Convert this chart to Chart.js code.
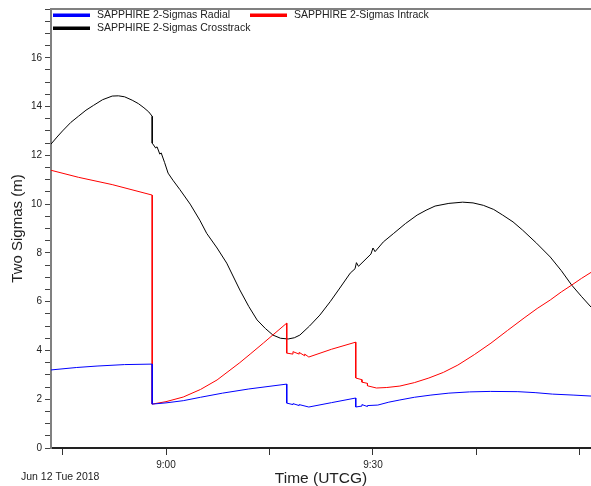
<!DOCTYPE html>
<html>
<head>
<meta charset="utf-8">
<script src="https://cdn.jsdelivr.net/npm/chart.js@4.4.1/dist/chart.umd.min.js"></script>
<style>
	html, body { margin: 0; padding: 0; background: #ffffff; }
	#wrap { position: relative; width: 591px; height: 486px; }
</style>
</head>
<body>
<div id="wrap"><canvas id="chart"></canvas></div>
<script>

// time is in minutes after 08:00 UTCG, values in metres
const radialT = [43.3, 47, 50, 54, 58, 58, 60, 62.5, 65, 68.2, 72, 77.5, 77.5, 78.4, 78.4, 79.3, 79.3, 80.7, 84, 87.5, 87.5, 88.4, 88.4, 89.2, 89.2, 90.7, 92.3, 93.9, 96, 98.4, 101, 104, 107, 111, 113.5, 116, 119, 121.6];
const radialV = [3.2, 3.3, 3.36, 3.42, 3.44, 1.8, 1.85, 1.94, 2.08, 2.25, 2.42, 2.62, 1.84, 1.78, 1.82, 1.74, 1.78, 1.68, 1.86, 2.05, 1.68, 1.72, 1.78, 1.7, 1.74, 1.76, 1.88, 1.97, 2.08, 2.17, 2.25, 2.3, 2.32, 2.31, 2.27, 2.21, 2.17, 2.13];

const intrackT = [43.3, 47.3, 52.2, 58, 58, 60, 62.5, 65, 67.4, 70.7, 72.2, 74.1, 77.5, 77.5, 78.4, 78.4, 79.3, 79.3, 80.1, 80.1, 80.7, 84, 87.5, 87.5, 88.4, 88.4, 89.2, 89.2, 90.5, 92, 93.9, 96, 98.1, 100.2, 102.3, 104.7, 107.1, 109.5, 111.9, 113.8, 115.7, 117.3, 118.8, 120.2, 121.6];
const intrackV = [11.39, 11.1, 10.8, 10.37, 1.8, 1.9, 2.09, 2.4, 2.79, 3.5, 3.85, 4.3, 5.12, 3.89, 3.85, 3.95, 3.85, 3.92, 3.78, 3.85, 3.73, 4.05, 4.34, 2.87, 2.8, 2.7, 2.65, 2.55, 2.46, 2.48, 2.54, 2.68, 2.87, 3.1, 3.4, 3.83, 4.3, 4.82, 5.33, 5.72, 6.07, 6.4, 6.68, 6.95, 7.2];

const crossT = [43.3, 44.2, 45, 46.2, 47.3, 48.4, 49.5, 50.8, 52.2, 53.1, 54, 55.1, 56, 56.8, 57.5, 58, 58, 58.5, 58.7, 59.1, 59.3, 59.8, 60.3, 61, 62, 63.5, 64.9, 65.9, 67.4, 68.8, 70.7, 72, 73.2, 74.4, 75.5, 76.6, 77.7, 78.6, 79.4, 80.8, 82.3, 83.8, 85.2, 86.7, 87.4, 87.6, 87.9, 89.7, 90.0, 90.3, 91.5, 93, 94.7, 96.4, 97.7, 99, 101, 103, 104.5, 106, 107.5, 108.8, 110.3, 111.7, 113.7, 115.7, 117.3, 118.8, 120.2, 121.6];
const crossV = [12.45, 12.75, 13.0, 13.35, 13.6, 13.85, 14.05, 14.28, 14.43, 14.44, 14.4, 14.26, 14.12, 13.95, 13.78, 13.6, 12.5, 12.3, 12.35, 12.05, 12.1, 11.7, 11.27, 10.98, 10.6, 10.0, 9.34, 8.8, 8.2, 7.58, 6.48, 5.8, 5.25, 4.9, 4.63, 4.5, 4.47, 4.52, 4.63, 5.0, 5.45, 6.0, 6.56, 7.17, 7.35, 7.6, 7.45, 7.95, 8.2, 8.05, 8.45, 8.8, 9.2, 9.55, 9.75, 9.92, 10.03, 10.08, 10.05, 9.95, 9.78, 9.55, 9.27, 8.93, 8.4, 7.83, 7.27, 6.68, 6.22, 5.78];

const xTicks = [45, 60, 75, 90, 105, 120];
const xTickLabels = ['', '9:00', '', '9:30', '', ''];
const seriesNames = ['SAPPHIRE 2-Sigmas Radial', 'SAPPHIRE 2-Sigmas Intrack', 'SAPPHIRE 2-Sigmas Crosstrack'];
const seriesColors = ['#0000ff', '#ff0000', '#000000'];
const dateLabel = 'Jun 12 Tue 2018';


function points(ts, vs) {
	return ts.map((t, i) => ({x: t, y: vs[i]}));
}


// legend inside the plot frame, date text and top frame line
const decor = {
	id: 'decor',
	afterDraw(chart) {
		const ctx = chart.ctx;
		const area = chart.chartArea;

		ctx.save();
		ctx.strokeStyle = '#808080';
		ctx.lineWidth = 2;
		ctx.beginPath();
		ctx.moveTo(area.left, area.top);
		ctx.lineTo(area.right, area.top);
		ctx.stroke();

		const spots = [[53, 15], [250, 15], [53, 28]];
		ctx.font = '10.5px "Liberation Sans", Arial, sans-serif';
		ctx.textBaseline = 'middle';
		ctx.textAlign = 'left';
		spots.forEach(function(p, i) {
			ctx.fillStyle = seriesColors[i];
			ctx.fillRect(p[0], p[1] - 1.5, 37, 3.5);
			ctx.fillStyle = '#222222';
			ctx.fillText(seriesNames[i], p[0] + 44, p[1]);
		});

		ctx.fillStyle = '#222222';
		ctx.fillText(dateLabel, 21, 477);
		ctx.restore();
	}
};


const config = {
	type: 'line',
	data: {
		datasets: [
			{label: seriesNames[0], data: points(radialT, radialV), borderColor: seriesColors[0]},
			{label: seriesNames[1], data: points(intrackT, intrackV), borderColor: seriesColors[1]},
			{label: seriesNames[2], data: points(crossT, crossV), borderColor: seriesColors[2]}
		]
	},
	options: {
		responsive: true,
		maintainAspectRatio: false,
		animation: false,
		devicePixelRatio: 1,
		layout: {padding: {top: 9, left: 0, right: 0, bottom: 0}},
		elements: {
			point: {radius: 0},
			line: {borderWidth: 1, tension: 0, fill: false}
		},
		plugins: {
			legend: {display: false},
			tooltip: {enabled: false}
		},
		scales: {
			x: {
				type: 'linear',
				min: 43.33,
				max: 121.6,
				afterBuildTicks: (scale) => { scale.ticks = xTicks.map(v => ({value: v})); },
				afterFit: (scale) => { scale.height = 38; },
				ticks: {
					autoSkip: false,
					maxRotation: 0,
					padding: 4,
					color: '#222222',
					font: {family: '"Liberation Sans", Arial, sans-serif', size: 10},
					callback: (value, index) => xTickLabels[index]
				},
				grid: {drawOnChartArea: false, drawTicks: true, tickLength: 7, color: '#333333'},
				border: {color: '#222222', width: 2},
				title: {
					display: true,
					text: 'Time (UTCG)',
					color: '#222222',
					padding: 0,
					font: {family: '"Liberation Sans", Arial, sans-serif', size: 15.5, lineHeight: 1}
				}
			},
			y: {
				min: 0,
				max: 18,
				afterBuildTicks: (scale) => {
					const t = [];
					for(let v = 0; v <= 18; v += 0.5) {
						t.push({value: v});
					}
					scale.ticks = t;
				},
				afterFit: (scale) => { scale.width = 51; },
				ticks: {
					autoSkip: false,
					padding: 3,
					color: '#222222',
					font: {family: '"Liberation Sans", Arial, sans-serif', size: 10},
					callback: (value) => (value % 2 === 0 && value <= 16) ? String(value) : ''
				},
				grid: {drawOnChartArea: false, drawTicks: true, tickLength: 6, color: '#444444'},
				border: {color: '#808080', width: 2},
				title: {
					display: true,
					text: 'Two Sigmas (m)',
					color: '#222222',
					padding: {top: 10, bottom: 0},
					font: {family: '"Liberation Sans", Arial, sans-serif', size: 15, lineHeight: 1}
				}
			}
		}
	},
	plugins: [decor]
};

new Chart(document.getElementById('chart').getContext('2d'), config);

</script>
</body>
</html>
